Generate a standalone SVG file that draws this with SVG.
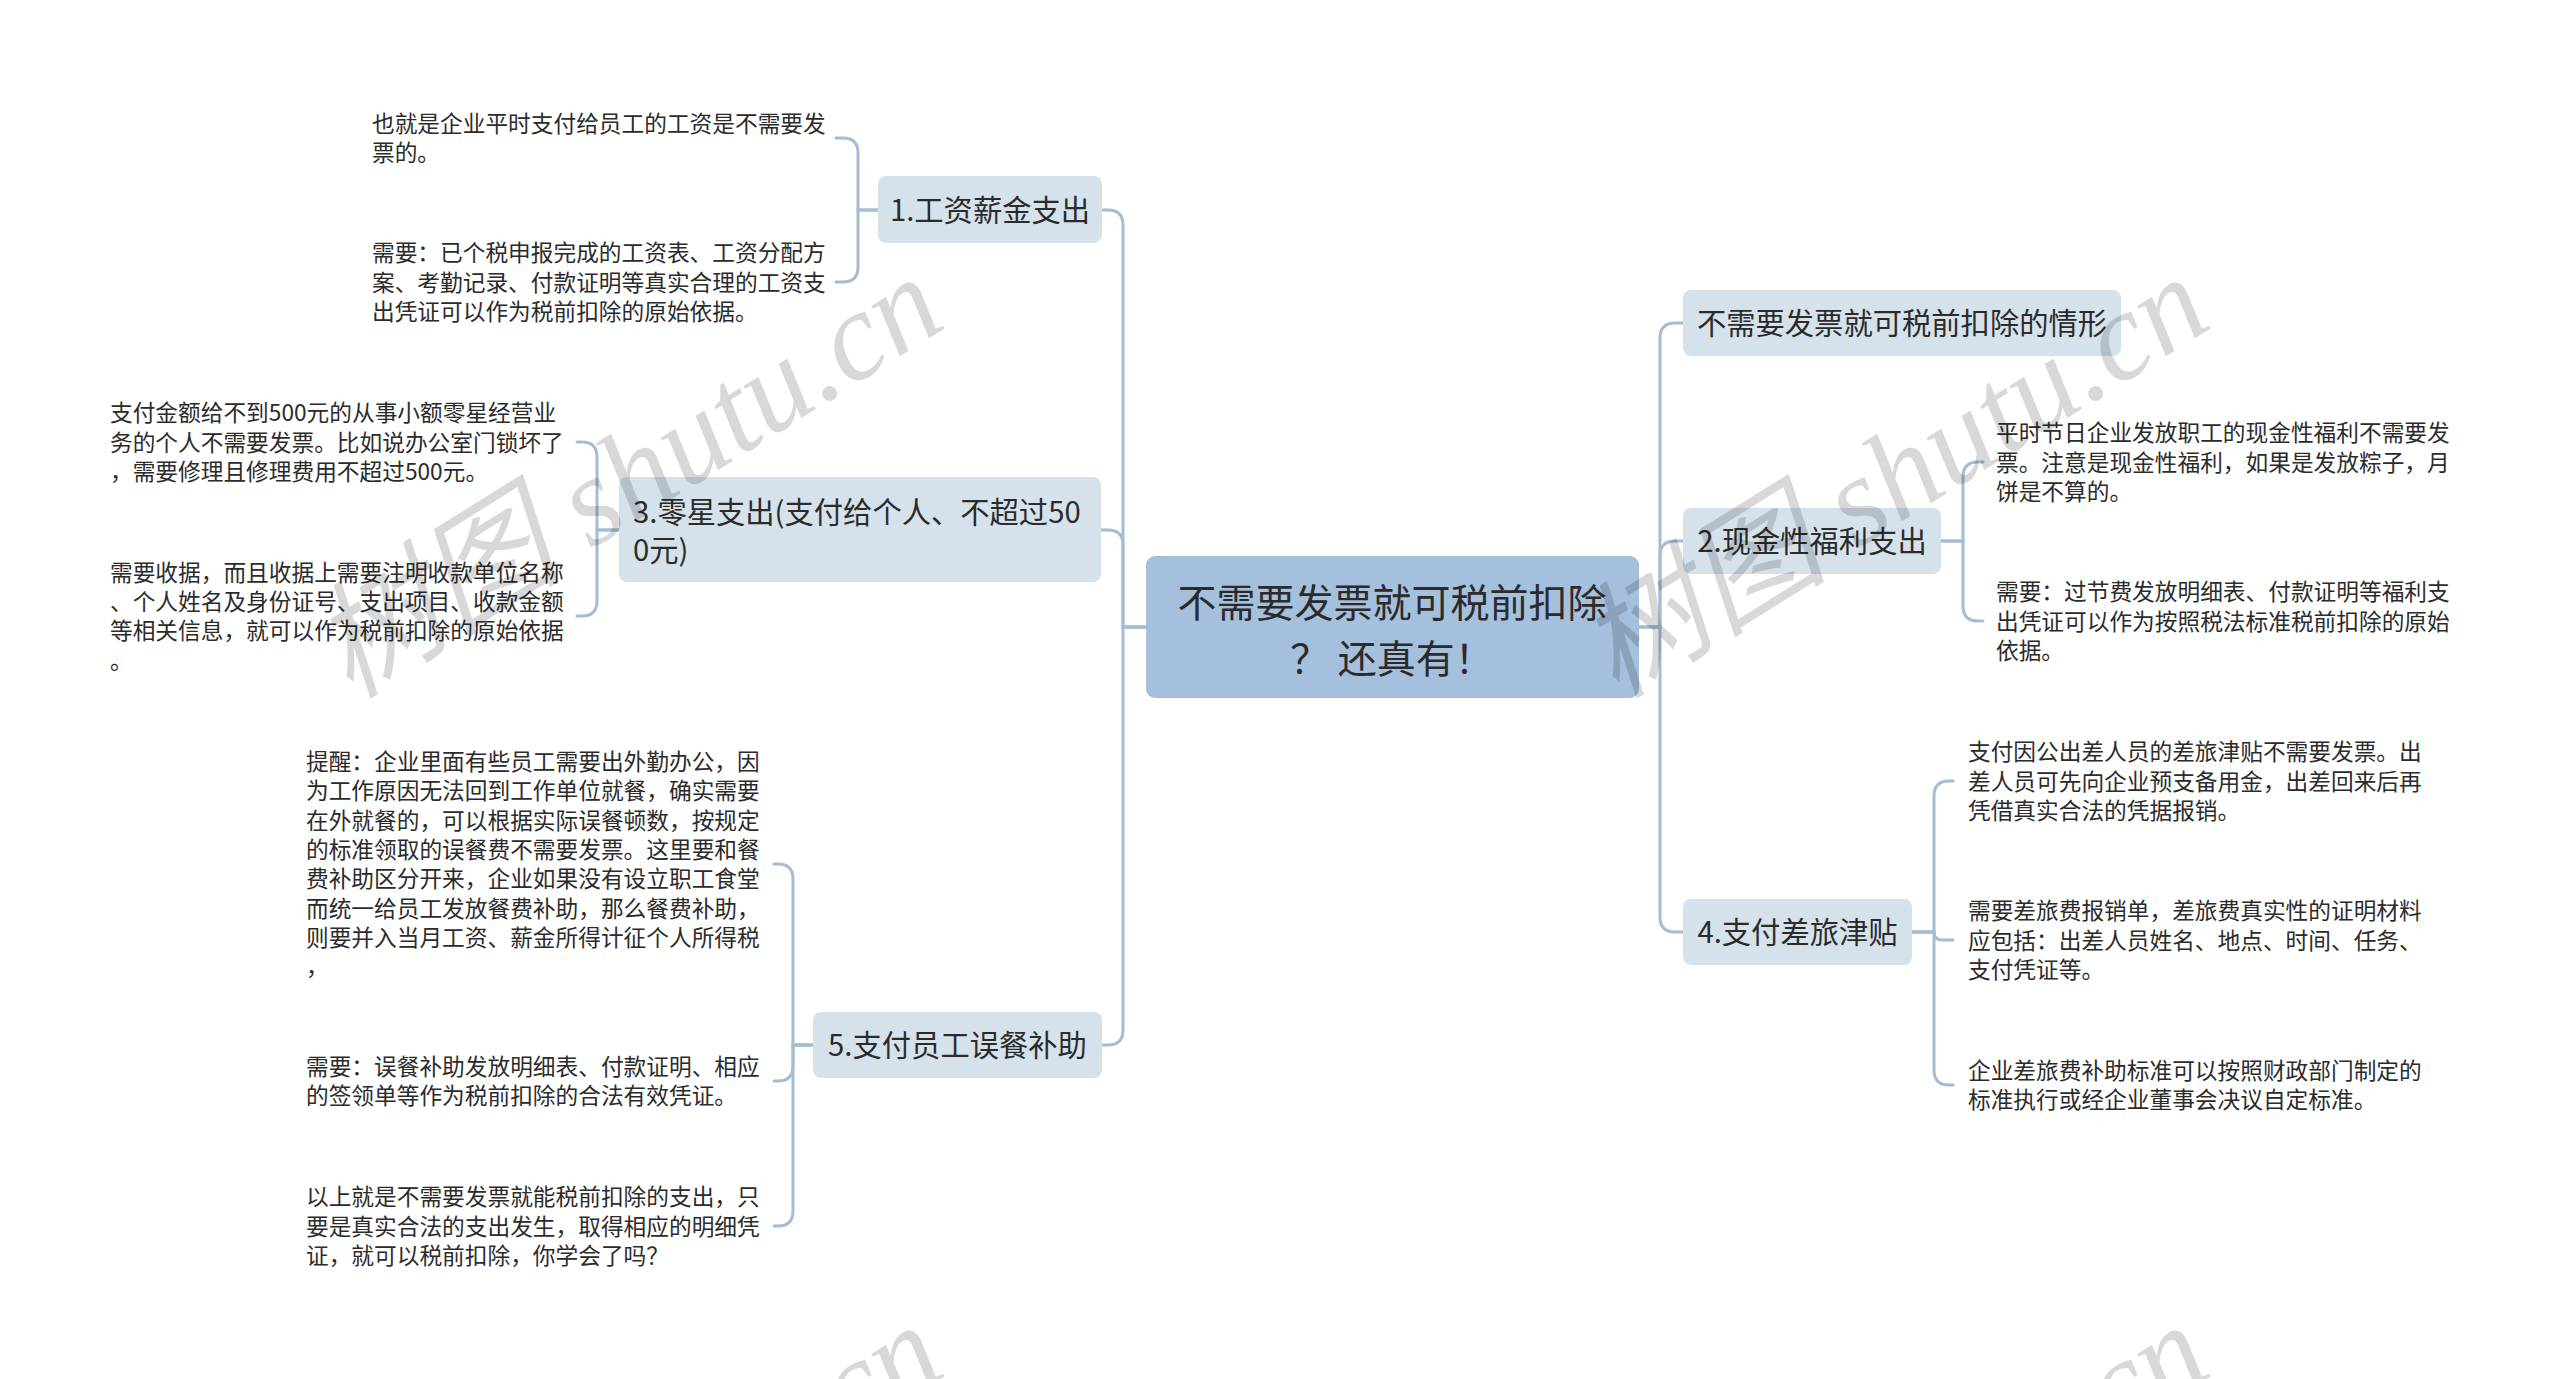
<svg xmlns="http://www.w3.org/2000/svg" width="2560" height="1379" viewBox="0 0 2560 1379">
<defs>
<style>
.bg{fill:#ffffff}
.root rect{fill:#a4c0dc}
.root text{font-family:"Noto Sans CJK SC","Noto Sans",sans-serif;font-size:39px;fill:#2b2b2b;text-anchor:middle}
.br rect{fill:#d6e2eb}
.br text{font-family:"Noto Sans CJK SC","Noto Sans",sans-serif;font-size:29.3px;fill:#2b2b2b}
.br text.c{text-anchor:middle}
.leaf text{font-family:"Noto Sans CJK SC","Noto Sans",sans-serif;font-size:22.7px;fill:#2b2b2b}
.conn path{fill:none;stroke:#a3bdd5;stroke-width:3;stroke-linecap:round}
.wm text{font-family:"Liberation Serif","Noto Sans CJK SC",serif;font-style:italic;font-size:126px;fill:#000;opacity:0.15}
</style>
</defs>
<rect class="bg" x="0" y="0" width="2560" height="1379"/>

<g class="conn" id="connectors">
<path d="M1146,627 H1123 V225 Q1123,210 1108,210 H1102"/>
<path d="M1146,627 H1123 V545 Q1123,530 1108,530 H1101"/>
<path d="M1146,627 H1123 V1030 Q1123,1045 1108,1045 H1102"/>
<path d="M1639,627 H1660 V338 Q1660,323 1675,323 H1683"/>
<path d="M1639,627 H1660 V556 Q1660,541 1675,541 H1683"/>
<path d="M1639,627 H1660 V917 Q1660,932 1675,932 H1683"/>
<path d="M878,210 H858 V153 Q858,138 843,138 H836"/>
<path d="M878,210 H858 V267 Q858,282 843,282 H836"/>
<path d="M619,530 H597 V457 Q597,442 582,442 H577"/>
<path d="M619,530 H597 V601 Q597,616 582,616 H577"/>
<path d="M813,1045 H793 V879 Q793,864 778,864 H774"/>
<path d="M813,1045 H793 V1066 Q793,1081 778,1081 H774"/>
<path d="M813,1045 H793 V1211 Q793,1226 778,1226 H774"/>
<path d="M1941,541 H1963 V477 Q1963,462 1978,462 H1983"/>
<path d="M1941,541 H1963 V606 Q1963,621 1978,621 H1983"/>
<path d="M1912,932 H1934 V796 Q1934,781 1949,781 H1953"/>
<path d="M1912,932 H1934 Q1934,940 1942,940 H1953"/>
<path d="M1912,932 H1934 V1070 Q1934,1085 1949,1085 H1953"/>
</g>

<g class="root" id="root">
<rect x="1146" y="556" width="493" height="142" rx="9"/>
<text x="1392" y="617">不需要发票就可税前扣除</text>
<text x="1392" y="673">？ 还真有！</text>
</g>

<g class="br" id="n1">
<rect x="878" y="176" width="224" height="67" rx="8"/>
<text class="c" x="990" y="221">1.工资薪金支出</text>
</g>
<g class="br" id="n3">
<rect x="619" y="477" width="482" height="105" rx="8"/>
<text x="633" y="523">3.零星支出(支付给个人、不超过50</text>
<text x="633" y="561">0元)</text>
</g>
<g class="br" id="n5">
<rect x="813" y="1012" width="289" height="66" rx="8"/>
<text class="c" x="957.5" y="1056">5.支付员工误餐补助</text>
</g>
<g class="br" id="n0">
<rect x="1683" y="290" width="438" height="66" rx="8"/>
<text class="c" x="1902" y="334">不需要发票就可税前扣除的情形</text>
</g>
<g class="br" id="n2">
<rect x="1683" y="508" width="258" height="66" rx="8"/>
<text class="c" x="1812" y="552">2.现金性福利支出</text>
</g>
<g class="br" id="n4">
<rect x="1683" y="899" width="229" height="66" rx="8"/>
<text class="c" x="1797.5" y="943">4.支付差旅津贴</text>
</g>

<g class="leaf" id="l1a">
<text x="372" y="131.6">也就是企业平时支付给员工的工资是不需要发</text>
<text x="372" y="160.9">票的。</text>
</g>
<g class="leaf" id="l1b">
<text x="372" y="261.3">需要：已个税申报完成的工资表、工资分配方</text>
<text x="372" y="290.6">案、考勤记录、付款证明等真实合理的工资支</text>
<text x="372" y="319.9">出凭证可以作为税前扣除的原始依据。</text>
</g>
<g class="leaf" id="l3a">
<text x="110" y="421.3">支付金额给不到500元的从事小额零星经营业</text>
<text x="110" y="450.6">务的个人不需要发票。比如说办公室门锁坏了</text>
<text x="110" y="479.9">，需要修理且修理费用不超过500元。</text>
</g>
<g class="leaf" id="l3b">
<text x="110" y="580.6">需要收据，而且收据上需要注明收款单位名称</text>
<text x="110" y="609.9">、个人姓名及身份证号、支出项目、收款金额</text>
<text x="110" y="639.2">等相关信息，就可以作为税前扣除的原始依据</text>
<text x="110" y="668.5">。</text>
</g>
<g class="leaf" id="l5a">
<text x="306" y="770">提醒：企业里面有些员工需要出外勤办公，因</text>
<text x="306" y="799.3">为工作原因无法回到工作单位就餐，确实需要</text>
<text x="306" y="828.6">在外就餐的，可以根据实际误餐顿数，按规定</text>
<text x="306" y="857.9">的标准领取的误餐费不需要发票。这里要和餐</text>
<text x="306" y="887.2">费补助区分开来，企业如果没有设立职工食堂</text>
<text x="306" y="916.5">而统一给员工发放餐费补助，那么餐费补助，</text>
<text x="306" y="945.8">则要并入当月工资、薪金所得计征个人所得税</text>
<text x="306" y="975.1">，</text>
</g>
<g class="leaf" id="l5b">
<text x="306" y="1075">需要：误餐补助发放明细表、付款证明、相应</text>
<text x="306" y="1104.3">的签领单等作为税前扣除的合法有效凭证。</text>
</g>
<g class="leaf" id="l5c">
<text x="306" y="1205.3">以上就是不需要发票就能税前扣除的支出，只</text>
<text x="306" y="1234.6">要是真实合法的支出发生，取得相应的明细凭</text>
<text x="306" y="1263.9">证，就可以税前扣除，你学会了吗？</text>
</g>
<g class="leaf" id="l2a">
<text x="1996" y="441.3">平时节日企业发放职工的现金性福利不需要发</text>
<text x="1996" y="470.6">票。注意是现金性福利，如果是发放粽子，月</text>
<text x="1996" y="499.9">饼是不算的。</text>
</g>
<g class="leaf" id="l2b">
<text x="1996" y="600.3">需要：过节费发放明细表、付款证明等福利支</text>
<text x="1996" y="629.6">出凭证可以作为按照税法标准税前扣除的原始</text>
<text x="1996" y="658.9">依据。</text>
</g>
<g class="leaf" id="l4a">
<text x="1968" y="760.3">支付因公出差人员的差旅津贴不需要发票。出</text>
<text x="1968" y="789.6">差人员可先向企业预支备用金，出差回来后再</text>
<text x="1968" y="818.9">凭借真实合法的凭据报销。</text>
</g>
<g class="leaf" id="l4b">
<text x="1968" y="919.3">需要差旅费报销单，差旅费真实性的证明材料</text>
<text x="1968" y="948.6">应包括：出差人员姓名、地点、时间、任务、</text>
<text x="1968" y="977.9">支付凭证等。</text>
</g>
<g class="leaf" id="l4c">
<text x="1968" y="1078.9">企业差旅费补助标准可以按照财政部门制定的</text>
<text x="1968" y="1108.2">标准执行或经企业董事会决议自定标准。</text>
</g>

<g class="wm" id="watermark">
<text x="350" y="700" transform="rotate(-32 350 700)">树图 shutu.cn</text>
<text x="1616" y="700" transform="rotate(-32 1616 700)">树图 shutu.cn</text>
<text x="350" y="1748" transform="rotate(-32 350 1748)">树图 shutu.cn</text>
<text x="1616" y="1748" transform="rotate(-32 1616 1748)">树图 shutu.cn</text>
</g>
</svg>
